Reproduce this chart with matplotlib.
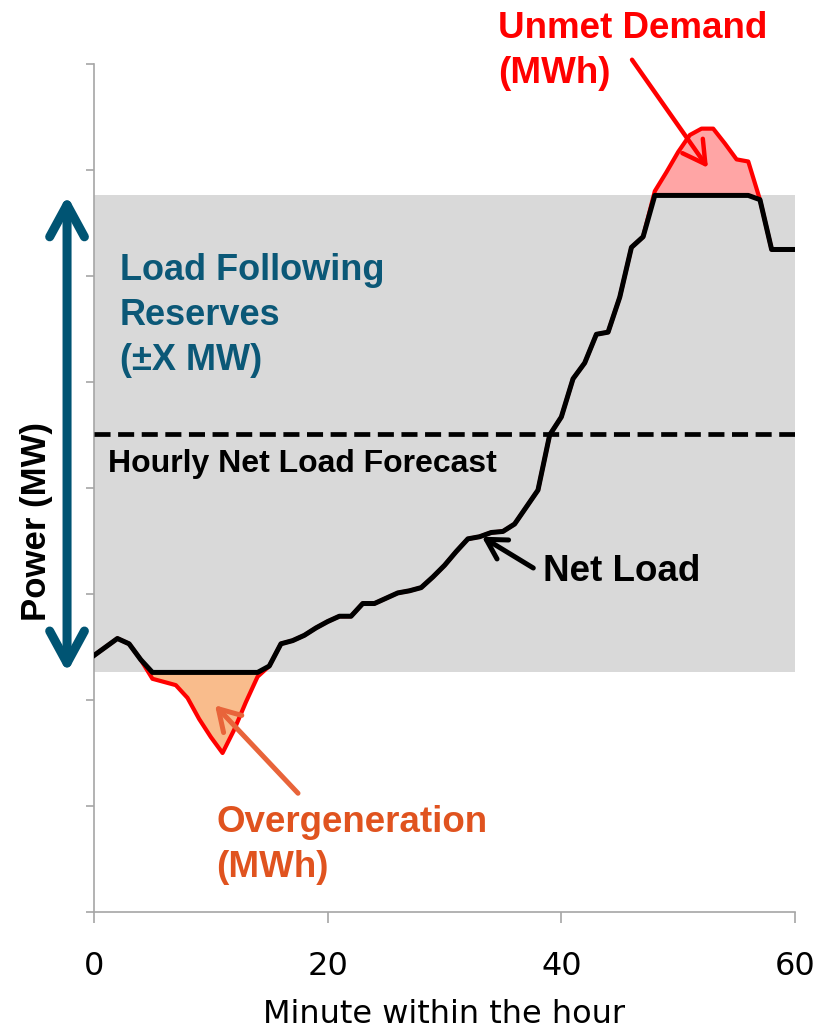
import numpy as np
import matplotlib
matplotlib.use("Agg")
import matplotlib.pyplot as plt
from matplotlib.patches import ArrowStyle

# minute-by-minute net load (arbitrary MW units)
minutes = list(range(61))
net_load = [2.42, 2.50, 2.58, 2.53, 2.38, 2.20, 2.17, 2.14, 2.02, 1.82,
            1.65, 1.50, 1.72, 1.98, 2.22, 2.32, 2.53, 2.56, 2.61, 2.68,
            2.74, 2.79, 2.79, 2.91, 2.91, 2.96, 3.01, 3.03, 3.06, 3.16,
            3.27, 3.40, 3.52, 3.54, 3.58, 3.59, 3.66, 3.82, 3.98, 4.50,
            4.67, 5.03, 5.18, 5.45, 5.47, 5.80, 6.27, 6.37, 6.80, 6.98,
            7.17, 7.33, 7.39, 7.39, 7.25, 7.10, 7.08, 6.72, 6.25, 6.25,
            6.25]
forecast = 4.51
reserve = 2.25
x_ticks = [0, 20, 40, 60]

lo = forecast - reserve
hi = forecast + reserve
x = np.array(minutes)
y = np.array(net_load)
y_clip = np.clip(y, lo, hi)

BLUE = "#0B5877"
ORANGE = "#E0531F"

fig = plt.figure(figsize=(8.27, 10.32), dpi=100)
ax = fig.add_axes([0.1137, 0.1163, 0.8476, 0.8217])

ax.axhspan(lo, hi, color="#D9D9D9", lw=0, zorder=1)
ax.fill_between(x, y, lo, where=y < lo, interpolate=True, color="#F9BC8C", lw=0, zorder=2)
ax.fill_between(x, y, hi, where=y > hi, interpolate=True, color="#FFA5A5", lw=0, zorder=2)
ax.plot(x, y, color="red", lw=3.0, zorder=3, solid_joinstyle="round")
ax.plot(x, y_clip, color="black", lw=3.6, zorder=4, solid_joinstyle="round")
ax.plot([0, 60], [forecast, forecast], color="black", lw=3.4, ls=(0, (3.4, 1.6)), zorder=4)

ax.set_xlim(0, 60)
ax.set_ylim(0, 8)
ax.set_xticks(x_ticks)
ax.set_yticks(range(9))
ax.set_yticklabels([])
for s in ["top", "right"]:
    ax.spines[s].set_visible(False)
for s in ["left", "bottom"]:
    ax.spines[s].set_color("#A6A6A6")
    ax.spines[s].set_linewidth(1.2)
ax.tick_params(axis="x", length=8, width=1.2, color="#A6A6A6", pad=20, labelsize=23)
ax.tick_params(axis="y", length=6, width=1.2, color="#A6A6A6")
ax.set_xlabel("Minute within the hour", fontsize=23, labelpad=12)
ax.set_ylabel("Power (MW)", fontsize=25, fontweight="bold", family="Liberation Sans")
ax.yaxis.set_label_coords(-0.058, 0.461)

# text annotations
bold = dict(family="Liberation Sans", fontweight="bold")
ax.text(2.2, 6.22, "Load Following\nReserves\n(\u00b1X MW)", color=BLUE, fontsize=26,
        va="top", linespacing=1.38, **bold)
ax.text(1.2, 4.23, "Hourly Net Load Forecast", color="black", fontsize=23, va="center", **bold)
ax.text(38.45, 3.21, "Net Load", color="black", fontsize=26.5, va="center", **bold)
ax.text(34.6, 8.50, "Unmet Demand\n(MWh)", color="red", fontsize=26.5, va="top",
        linespacing=1.38, clip_on=False, **bold)
ax.text(10.45, 1.01, "Overgeneration\n(MWh)", color=ORANGE, fontsize=26.5, va="top",
        linespacing=1.38, **bold)

def arrow(tail, tip, color, lw, hl, hw, style="->"):
    ax.annotate("", xy=tip, xytext=tail, annotation_clip=False,
                arrowprops=dict(arrowstyle=ArrowStyle(style, head_length=hl, head_width=hw),
                                color=color, lw=lw, mutation_scale=1,
                                shrinkA=0, shrinkB=0, capstyle="round", joinstyle="round"))

arrow((37.6, 3.245), (33.2, 3.54), "black", 3.6, 14, 8)
arrow((46.05, 8.04), (52.55, 7.02), "red", 3.2, 16, 9)
arrow((17.46, 1.12), (10.36, 1.95), "#E8643A", 3.6, 15, 9)
ax.annotate("", xy=(-0.0385, hi), xytext=(-0.0385, lo),
            xycoords=("axes fraction", "data"), textcoords=("axes fraction", "data"),
            annotation_clip=False,
            arrowprops=dict(arrowstyle=ArrowStyle("<->", head_length=23, head_width=12.5),
                            color="#005473", lw=6.5, mutation_scale=1,
                            shrinkA=0, shrinkB=0, capstyle="round", joinstyle="round"))

fig.savefig("out.png", dpi=100)
